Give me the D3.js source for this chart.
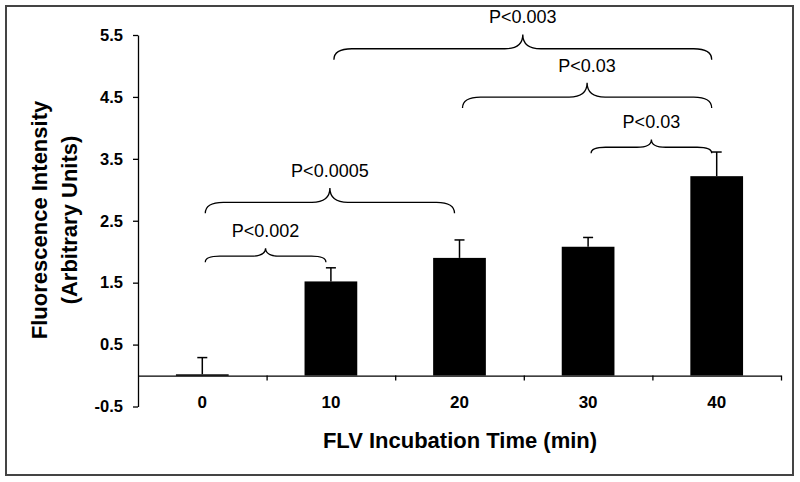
<!DOCTYPE html>
<html>
<head>
<meta charset="utf-8">
<script src="https://cdn.jsdelivr.net/npm/d3@7"></script>
<style>
  body { margin: 0; background: #fff; }
  svg { display: block; font-family: "Liberation Sans", Arial, sans-serif; }
</style>
</head>
<body>
<svg id="chart" width="800" height="482"></svg>
<script>
// ---- data ----
const times = ["0", "10", "20", "30", "40"];
const means = [0.02, 1.52, 1.90, 2.08, 3.22];
const errors = [0.27, 0.22, 0.29, 0.15, 0.39];
const yTicks = [-0.5, 0.5, 1.5, 2.5, 3.5, 4.5, 5.5];
const braceFrom = [0, 0, 1, 2, 3];
const braceTo = [1, 2, 4, 4, 4];
const braceLevel = [1.83, 2.62, 5.10, 4.32, 3.59];
const braceLabels = ["P<0.002", "P<0.0005", "P<0.003", "P<0.03", "P<0.03"];

// ---- layout ----
const svg = d3.select("#chart");
const plotLeft = 138, plotRight = 781, plotTop = 35, plotBottom = 406.5;

svg.append("rect")
  .attr("x", 6).attr("y", 6).attr("width", 787).attr("height", 469)
  .attr("fill", "none").attr("stroke", "#444").attr("stroke-width", 2);

const x = d3.scaleBand().domain(times).range([plotLeft, plotRight]).padding(0);
const xEdge = d3.scaleLinear().domain([0, times.length]).range([plotLeft, plotRight]);
const y = d3.scaleLinear().domain([-0.5, 5.5]).range([plotBottom, plotTop]);
const barW = x.bandwidth() * 0.41;
const cx = i => x(times[i]) + x.bandwidth() / 2;

// y axis
const yAxis = svg.append("g")
  .attr("transform", `translate(${plotLeft},0)`)
  .call(d3.axisLeft(y).tickValues(yTicks).tickSize(5).tickSizeOuter(0)
    .tickPadding(10).tickFormat(d => d.toFixed(1)));
yAxis.selectAll("text").attr("font-size", 16.5).attr("font-weight", "bold")
  .attr("fill", "#000").attr("font-family", "Liberation Sans, Arial, sans-serif");
yAxis.selectAll("line, path").attr("stroke", "#000").attr("stroke-width", 1.3);

// x axis line at zero with boundary ticks
const xAxis = svg.append("g")
  .attr("transform", `translate(0,${y(0)})`)
  .call(d3.axisBottom(xEdge).tickValues([1, 2, 3, 4, 5]).tickSize(5)
    .tickSizeOuter(0).tickFormat(""));
xAxis.selectAll("line, path").attr("stroke", "#000").attr("stroke-width", 1.3);

// category labels
const xLab = svg.append("g")
  .attr("transform", `translate(0,${y(0)})`)
  .call(d3.axisBottom(x).tickSize(0).tickPadding(20));
xLab.select(".domain").remove();
xLab.selectAll("text").attr("font-size", 17).attr("font-weight", "bold")
  .attr("fill", "#000").attr("font-family", "Liberation Sans, Arial, sans-serif");

// bars
svg.append("g").selectAll("rect").data(means).join("rect")
  .attr("x", (d, i) => cx(i) - barW / 2)
  .attr("y", d => y(d))
  .attr("width", barW)
  .attr("height", d => Math.max(1.5, y(0) - y(d)))
  .attr("fill", "#000");

// error bars (upper only)
const eb = svg.append("g").attr("stroke", "#000").attr("stroke-width", 1.5);
means.forEach((m, i) => {
  eb.append("line").attr("x1", cx(i)).attr("x2", cx(i))
    .attr("y1", y(m)).attr("y2", y(m + errors[i]));
  eb.append("line").attr("x1", cx(i) - 5).attr("x2", cx(i) + 5)
    .attr("y1", y(m + errors[i])).attr("y2", y(m + errors[i]));
});

// braces
const bg = svg.append("g");
braceLabels.forEach((lab, k) => {
  const x1 = cx(braceFrom[k]) + 3, x2 = cx(braceTo[k]) - 5;
  const xm = (x1 + x2) / 2;
  const w = x2 - x1;
  const drop = Math.min(11, w * 0.05);
  const rise = drop * 1.3;
  const yE = y(braceLevel[k]);
  const yF = yE - drop;
  const yT = yF - rise;
  const r = Math.min(18, w * 0.12);
  const p = d3.path();
  p.moveTo(x1, yE);
  p.quadraticCurveTo(x1, yF, x1 + r, yF);
  p.lineTo(xm - r, yF);
  p.quadraticCurveTo(xm, yF, xm, yT);
  p.quadraticCurveTo(xm, yF, xm + r, yF);
  p.lineTo(x2 - r, yF);
  p.quadraticCurveTo(x2, yF, x2, yE);
  bg.append("path").attr("d", p.toString())
    .attr("fill", "none").attr("stroke", "#000").attr("stroke-width", 1.3);
  bg.append("text").attr("x", xm).attr("y", yT - 11)
    .attr("text-anchor", "middle").attr("font-size", 18).attr("fill", "#000")
    .text(lab);
});

// axis titles
svg.append("text").attr("x", 460).attr("y", 448)
  .attr("text-anchor", "middle").attr("font-size", 22).attr("font-weight", "bold")
  .text("FLV Incubation Time (min)");
const yt = svg.append("text").attr("transform", "rotate(-90)")
  .attr("text-anchor", "middle").attr("font-size", 22).attr("font-weight", "bold");
yt.append("tspan").attr("x", -220).attr("y", 47).text("Fluorescence Intensity");
yt.append("tspan").attr("x", -220).attr("y", 77).text("(Arbitrary Units)");
</script>
</body>
</html>
